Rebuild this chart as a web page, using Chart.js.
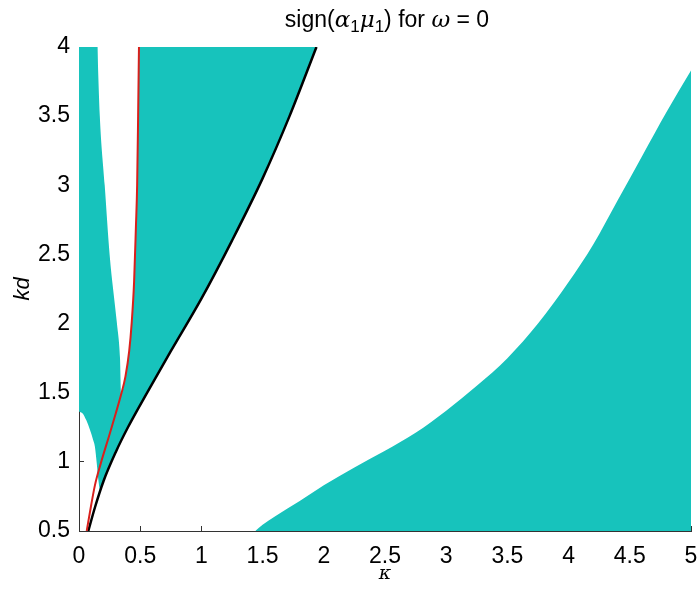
<!DOCTYPE html>
<html>
<head>
<meta charset="utf-8">
<script src="https://cdn.jsdelivr.net/npm/chart.js@4.4.1/dist/chart.umd.min.js"></script>
<style>
  html, body { margin: 0; padding: 0; background: #fff; }
</style>
</head>
<body>
<canvas id="sign-chart" width="699" height="589"></canvas>
<script>
// Ticks
const kappaTicks = [0, 0.5, 1, 1.5, 2, 2.5, 3, 3.5, 4, 4.5, 5];
const kdTicks = [0.5, 1, 1.5, 2, 2.5, 3, 3.5, 4];

// Black curve
const blackKappa = [0.076, 0.13, 0.2, 0.3, 0.4, 0.55, 0.75, 1.0, 1.25, 1.5, 1.72, 1.94];
const blackKd    = [0.5, 0.67, 0.86, 1.07, 1.25, 1.49, 1.8, 2.18, 2.6, 3.05, 3.5, 4.0];

// Red curve
const redKappa = [0.063, 0.1, 0.13, 0.175, 0.25, 0.3, 0.345, 0.38, 0.41, 0.43, 0.45, 0.465, 0.475, 0.483, 0.49];
const redKd    = [0.5, 0.69, 0.83, 0.98, 1.2, 1.35, 1.49, 1.62, 1.8, 2.0, 2.3, 2.7, 3.0, 3.5, 4.0];

// lower edge of the left teal zone (from the kd axis to the black curve)
const leftEdgeKappa = [0, 0.03, 0.06, 0.09, 0.115, 0.13, 0.145, 0.158, 0.175];
const leftEdgeKd    = [1.365, 1.35, 1.3, 1.23, 1.16, 1.11, 0.99, 0.87, 0.79];

// right edge of the thin strip along the kd axis (white gap starts here)
const stripKappa = [0.15, 0.17, 0.21, 0.25, 0.31, 0.335, 0.345];
const stripKd    = [4.0, 3.5, 3.0, 2.5, 2.0, 1.75, 1.49];

// upper edge of the big teal zone bottom right
const lowerKappa = [1.44, 1.5, 1.6, 1.8, 2.0, 2.25, 2.5, 2.75, 3.0, 3.25, 3.5, 3.75, 4.0, 4.2, 4.4, 4.6, 4.8, 5.0];
const lowerKd    = [0.5, 0.545, 0.605, 0.715, 0.83, 0.96, 1.08, 1.21, 1.37, 1.55, 1.75, 2.0, 2.3, 2.57, 2.89, 3.21, 3.53, 3.83];

const teal = '#17c3bc';

function pts(xs, ys) {
  return xs.map((x, i) => ({ x: x, y: ys[i] }));
}

// teal above: left edge, then black curve
const tealTop = pts(leftEdgeKappa, leftEdgeKd)
  .concat(pts(blackKappa, blackKd).filter(p => p.x > 0.175));
// white gap above: strip edge, then red curve
const gapTop = pts(stripKappa, stripKd)
  .concat(pts(redKappa, redKd).filter(p => p.x > 0.345));

// title with greek + subscripts
const mathTitle = {
  id: 'mathTitle',
  afterDraw(chart) {
    const ctx = chart.ctx;
    const a = chart.chartArea;
    const parts = [
      { t: 'sign(', f: '23px "Liberation Sans"', dy: 0 },
      { t: 'α', f: 'italic 23px "DejaVu Serif"', dy: 0 },
      { t: '1', f: '17px "Liberation Sans"', dy: 5 },
      { t: 'μ', f: 'italic 23px "DejaVu Serif"', dy: 0 },
      { t: '1', f: '17px "Liberation Sans"', dy: 5 },
      { t: ') for ', f: '23px "Liberation Sans"', dy: 0 },
      { t: 'ω', f: 'italic 23px "DejaVu Serif"', dy: 0 },
      { t: ' = 0', f: '23px "Liberation Sans"', dy: 0 }
    ];
    ctx.save();
    ctx.fillStyle = '#000';
    ctx.textBaseline = 'alphabetic';
    let w = 0;
    parts.forEach(p => { ctx.font = p.f; p.w = ctx.measureText(p.t).width; w += p.w; });
    let x = (a.left + a.right) / 2 + 2 - w / 2;
    const y = 27;
    parts.forEach(p => {
      ctx.font = p.f;
      ctx.fillText(p.t, x, y + p.dy);
      x += p.w;
    });
    ctx.restore();
  }
};

const smooth = { cubicInterpolationMode: 'monotone', pointRadius: 0 };

const ctx = document.getElementById('sign-chart').getContext('2d');
const chart = new Chart(ctx, {
  type: 'line',
  data: {
    datasets: [
      { // red curve
        ...smooth,
        data: pts(redKappa, redKd),
        borderColor: '#d9201c',
        borderWidth: 2,
        fill: false,
        order: 1
      },
      { // black curve
        ...smooth,
        data: pts(blackKappa, blackKd),
        borderColor: '#000',
        borderWidth: 2.5,
        fill: false,
        order: 2
      },
      { // bottom right region
        ...smooth,
        data: pts(lowerKappa, lowerKd),
        borderWidth: 0,
        borderColor: teal,
        backgroundColor: teal,
        fill: 'start',
        order: 3
      },
      { // white gap
        ...smooth,
        data: gapTop,
        borderWidth: 0,
        borderColor: '#fff',
        backgroundColor: '#fff',
        fill: 'end',
        order: 4
      },
      { // left/top region
        ...smooth,
        data: tealTop,
        borderWidth: 0,
        borderColor: teal,
        backgroundColor: teal,
        fill: 'end',
        order: 5
      }
    ]
  },
  options: {
    responsive: false,
    animation: false,
    layout: { padding: { left: 0, right: 8, top: 47, bottom: 0 } },
    scales: {
      x: {
        type: 'linear',
        min: 0,
        max: 5,
        afterFit: s => { s.height = 58; s.paddingLeft = 0; s.paddingRight = 0; },
        afterBuildTicks: s => { s.ticks = kappaTicks.map(v => ({ value: v })); },
        grid: { drawOnChartArea: false, drawTicks: true, tickLength: -5, color: '#333' },
        border: { display: true, color: '#333', width: 1 },
        ticks: {
          padding: 17,
          color: '#000',
          font: { family: '"Liberation Sans"', size: 23 },
          callback: v => String(v)
        },
        title: {
          display: true,
          text: 'κ',
          color: '#000',
          font: { family: '"DejaVu Serif"', size: 19, style: 'italic' },
          padding: { top: 3, bottom: 4 }
        }
      },
      y: {
        type: 'linear',
        min: 0.5,
        max: 4,
        afterFit: s => { s.width = 79; s.paddingTop = 0; s.paddingBottom = 0; },
        afterBuildTicks: s => { s.ticks = kdTicks.map(v => ({ value: v })); },
        grid: { drawOnChartArea: false, drawTicks: true, tickLength: -5, color: '#333' },
        border: { display: true, color: '#333', width: 1 },
        ticks: {
          padding: 14,
          color: '#000',
          font: { family: '"Liberation Sans"', size: 23 },
          callback: v => String(v)
        },
        title: {
          display: true,
          text: 'kd',
          color: '#000',
          font: { family: '"Liberation Sans"', size: 22, style: 'italic' },
          padding: { top: 10, bottom: 10 }
        }
      }
    },
    plugins: {
      legend: { display: false },
      tooltip: { enabled: false },
      title: { display: false }
    }
  },
  plugins: [mathTitle]
});
</script>
</body>
</html>
